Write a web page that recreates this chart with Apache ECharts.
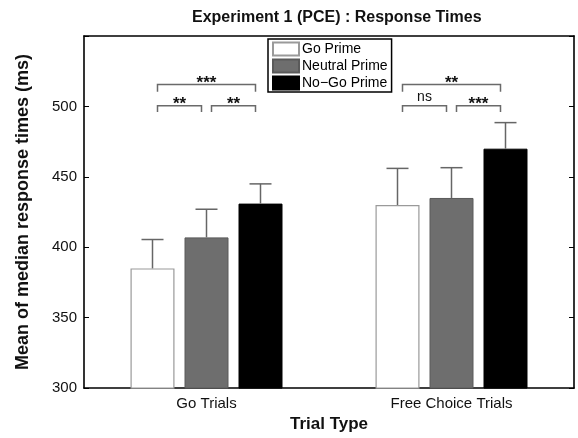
<!DOCTYPE html>
<html>
<head>
<meta charset="utf-8">
<script src="https://cdn.jsdelivr.net/npm/echarts@6/dist/echarts.min.js"></script>
<style>
html, body {margin: 0; padding: 0; background: #fff;}
#chart {width: 578px; height: 438px;}
</style>
</head>
<body>
<div id="chart"></div>
<script>
const categories = ['Go Trials', 'Free Choice Trials'];
const primes = ['Go Prime', 'Neutral Prime', 'No\u2212Go Prime'];
const goPrime = [385, 430];
const neutralPrime = [407, 435];
const noGoPrime = [431, 470];
const goPrimeErr = [20.5, 26];
const neutralPrimeErr = [20, 21.5];
const noGoPrimeErr = [14, 18.5];
const yTicks = [300, 350, 400, 450, 500];
// [category, from bar, to bar, level, drop, label]
const brackets = [
  [0, 0, 1, 500.5, 4.5, '**'],
  [0, 1, 2, 500.5, 4.5, '**'],
  [0, 0, 2, 515.5, 5, '***'],
  [1, 0, 1, 500.5, 4.5, 'ns'],
  [1, 1, 2, 500.5, 4.5, '***'],
  [1, 0, 2, 515.5, 5, '**']
];

const BAR_W = 44;
const BAR_GAP = 10;
const INSET = 5;
const font = 'Liberation Sans, Arial, sans-serif';

const barStyles = [
  {color: '#fff', borderColor: '#9a9a9a', borderWidth: 1.2},
  {color: '#6e6e6e', borderColor: '#5a5a5a', borderWidth: 1},
  {color: '#000', borderColor: '#000', borderWidth: 1}
];

const barSeries = [goPrime, neutralPrime, noGoPrime].map((vals, k) => ({
  type: 'bar',
  name: primes[k],
  data: vals,
  barWidth: BAR_W,
  barGap: (BAR_GAP / BAR_W * 100) + '%',
  itemStyle: barStyles[k],
  z: 2
}));

const errorSeries = [[goPrime, goPrimeErr], [neutralPrime, neutralPrimeErr], [noGoPrime, noGoPrimeErr]].map(([vals, errs], k) => ({
  type: 'custom',
  z: 3,
  data: vals.map((v, i) => [i, v, v + errs[i]]),
  encode: {x: 0, y: [1, 2]},
  renderItem(params, api) {
    const base = api.coord([api.value(0), api.value(1)]);
    const top = api.coord([api.value(0), api.value(2)]);
    const x = base[0] + (k - 1) * (BAR_W + BAR_GAP);
    const st = {stroke: '#666', lineWidth: 1.5};
    return {type: 'group', children: [
      {type: 'line', shape: {x1: x, y1: base[1], x2: x, y2: top[1]}, style: st},
      {type: 'line', shape: {x1: x - 11, y1: top[1], x2: x + 11, y2: top[1]}, style: st}
    ]};
  }
}));

const bracketSeries = {
  type: 'custom',
  z: 4,
  data: brackets.map(b => [b[0], b[3]]),
  renderItem(params, api) {
    const b = brackets[params.dataIndex];
    const c = api.coord([b[0], b[3]]);
    const low = api.coord([b[0], b[3] - b[4]]);
    const step = BAR_W + BAR_GAP;
    const x1 = c[0] + (b[1] - 1) * step + INSET;
    const x2 = c[0] + (b[2] - 1) * step - INSET;
    const isStar = b[5] !== 'ns';
    return {type: 'group', children: [
      {type: 'polyline', shape: {points: [[x1, low[1]], [x1, c[1]], [x2, c[1]], [x2, low[1]]]},
        style: {stroke: '#6a6a6a', lineWidth: 1.5, fill: null}},
      {type: 'text', x: (x1 + x2) / 2, y: c[1] - (isStar ? 1 : 9),
        style: {text: b[5], fill: '#111', align: 'center', verticalAlign: 'middle',
          font: (isStar ? 'bold 17px ' : '14px ') + font}}
    ]};
  }
};

const chart = echarts.init(document.getElementById('chart'));
chart.setOption({
  animation: false,
  textStyle: {fontFamily: font},
  title: {
    text: 'Experiment 1 (PCE) : Response Times',
    left: 187, top: 5,
    textStyle: {fontSize: 16, fontWeight: 'bold', color: '#111'}
  },
  legend: {
    data: primes,
    orient: 'vertical',
    left: 268, top: 39,
    icon: 'rect',
    itemWidth: 26, itemHeight: 13, itemGap: 1,
    padding: [2, 4, 1, 4],
    backgroundColor: '#fff',
    borderColor: '#000', borderWidth: 1.5,
    textStyle: {fontSize: 14, lineHeight: 16, color: '#000', padding: [0, 0, 0, -2]}
  },
  grid: {left: 84, right: 4, top: 36, bottom: 43},
  xAxis: [{
    type: 'category', data: categories, position: 'bottom',
    axisLine: {lineStyle: {color: '#000', width: 1.6}},
    axisTick: {inside: true, alignWithLabel: true, length: 5, lineStyle: {color: '#000'}},
    axisLabel: {fontSize: 15, color: '#111', margin: 8},
    name: 'Trial Type', nameLocation: 'middle', nameGap: 25,
    nameTextStyle: {fontSize: 17, fontWeight: 'bold', color: '#111'}
  }, {
    type: 'category', data: categories, position: 'top',
    axisLine: {lineStyle: {color: '#000', width: 1.6}},
    axisTick: {inside: true, alignWithLabel: true, length: 5, lineStyle: {color: '#000'}},
    axisLabel: {show: false}
  }],
  yAxis: [{
    type: 'value', min: 300, max: 550, interval: 50,
    axisLine: {show: true, lineStyle: {color: '#000', width: 1.6}},
    axisTick: {show: true, inside: true, length: 5, lineStyle: {color: '#000'}},
    axisLabel: {fontSize: 15, color: '#111', margin: 7,
      formatter: v => yTicks.includes(v) ? String(v) : ''},
    splitLine: {show: false},
    name: 'Mean of median response times (ms)', nameLocation: 'middle', nameGap: 52,
    nameTextStyle: {fontSize: 18, fontWeight: 'bold', color: '#111'}
  }, {
    type: 'value', min: 300, max: 550, interval: 50, position: 'right',
    axisLine: {show: true, lineStyle: {color: '#000', width: 1.6}},
    axisTick: {show: true, inside: true, length: 5, lineStyle: {color: '#000'}},
    axisLabel: {show: false},
    splitLine: {show: false}
  }],
  series: [...barSeries, ...errorSeries, bracketSeries]
});
</script>
</body>
</html>
